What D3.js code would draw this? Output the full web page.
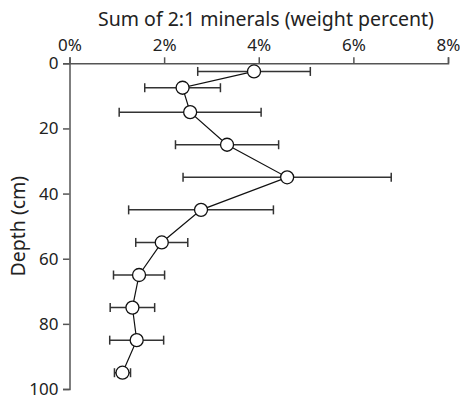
<!DOCTYPE html>
<html>
<head>
<meta charset="utf-8">
<script src="https://cdn.jsdelivr.net/npm/d3@7"></script>
<style>
  html, body { margin: 0; padding: 0; background: #fff; }
  svg { display: block; }
  text { font-family: "Noto Sans", "Open Sans", sans-serif; fill: #222; }
</style>
</head>
<body>
<svg id="chart" width="460" height="398"></svg>
<script>
// Depth profile of 2:1 minerals: mean weight percent with error bars
const depths = [2.5, 7.5, 15, 25, 35, 45, 55, 65, 75, 85, 95];
const values = [3.90, 2.39, 2.55, 3.33, 4.60, 2.78, 1.95, 1.47, 1.33, 1.42, 1.12];
const errors = [1.19, 0.80, 1.50, 1.09, 2.20, 1.53, 0.55, 0.54, 0.47, 0.57, 0.17];
const xTicks = [0, 2, 4, 6, 8];
const yTicks = [0, 20, 40, 60, 80, 100];

const svg = d3.select("#chart");
const margin = { left: 69.5, right: 12, top: 63.3, bottom: 9 };
const W = 460, H = 398;

const x = d3.scaleLinear().domain([0, 8]).range([margin.left, W - margin.right]);
const y = d3.scaleLinear().domain([0, 100]).range([margin.top, H - margin.bottom]);

const axisColor = "#555";
const tickFont = 17;

// top x axis
const gx = svg.append("g")
  .attr("transform", `translate(0,${margin.top})`)
  .call(d3.axisTop(x).tickValues(xTicks).tickFormat(d => d + "%").tickSizeOuter(0).tickSize(6).tickPadding(6.5));
gx.select(".domain").attr("stroke", axisColor).attr("stroke-width", 1.5);
gx.selectAll(".tick line").attr("stroke", axisColor).attr("stroke-width", 1.5);
gx.selectAll(".tick text").attr("font-size", tickFont).attr("fill", "#222")
  .style("font-family", '"Noto Sans", sans-serif');

// left y axis
const gy = svg.append("g")
  .attr("transform", `translate(${margin.left},0)`)
  .call(d3.axisLeft(y).tickValues(yTicks).tickSizeOuter(0).tickSize(6.5).tickPadding(4.5));
gy.select(".domain").attr("stroke", axisColor).attr("stroke-width", 1.5);
gy.selectAll(".tick line").attr("stroke", axisColor).attr("stroke-width", 1.5);
gy.selectAll(".tick text").attr("font-size", tickFont).attr("fill", "#222")
  .style("font-family", '"Noto Sans", sans-serif');

// titles
svg.append("text")
  .attr("x", 266).attr("y", 26)
  .attr("text-anchor", "middle")
  .attr("font-size", 19.5)
  .text("Sum of 2:1 minerals (weight percent)");

svg.append("text")
  .attr("transform", `translate(25,${(y(0) + y(100)) / 2}) rotate(-90)`)
  .attr("text-anchor", "middle")
  .attr("font-size", 19.5)
  .text("Depth (cm)");

const data = depths.map((d, i) => ({ depth: d, value: values[i], err: errors[i] }));

// error bars
const eb = svg.append("g").attr("stroke", "#333").attr("stroke-width", 1.5);
data.forEach(d => {
  const yy = y(d.depth), x0 = x(d.value - d.err), x1 = x(d.value + d.err);
  eb.append("line").attr("x1", x0).attr("x2", x1).attr("y1", yy).attr("y2", yy);
  eb.append("line").attr("x1", x0).attr("x2", x0).attr("y1", yy - 4.5).attr("y2", yy + 4.5);
  eb.append("line").attr("x1", x1).attr("x2", x1).attr("y1", yy - 4.5).attr("y2", yy + 4.5);
});

// connecting line
svg.append("path")
  .datum(data)
  .attr("fill", "none")
  .attr("stroke", "#111")
  .attr("stroke-width", 1.2)
  .attr("d", d3.line().x(d => x(d.value)).y(d => y(d.depth)));

// markers
svg.append("g").selectAll("circle")
  .data(data).join("circle")
  .attr("cx", d => x(d.value))
  .attr("cy", d => y(d.depth))
  .attr("r", 6.5)
  .attr("fill", "#fff")
  .attr("stroke", "#111")
  .attr("stroke-width", 1.3);
</script>
</body>
</html>
